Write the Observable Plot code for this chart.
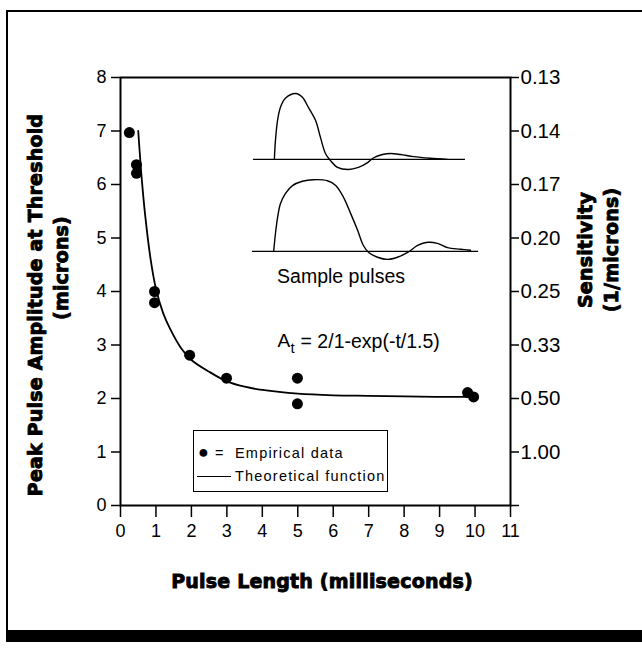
<!DOCTYPE html>
<html>
<head>
<meta charset="utf-8">
<script src="https://cdn.jsdelivr.net/npm/d3@7"></script>
<script src="https://cdn.jsdelivr.net/npm/@observablehq/plot@0.6"></script>
<style>
  html, body { margin: 0; padding: 0; background: #fff; }
  #wrap { position: relative; width: 642px; height: 653px; overflow: hidden; background: #fff; }
  #border { position: absolute; left: 6px; top: 10px; width: 700px; height: 632px; box-sizing: border-box;
            border-left: 2px solid #000; border-top: 2px solid #000; border-bottom: 12px solid #000; pointer-events: none; }
  #chart { position: absolute; left: 0; top: 0; }
  .title { position: absolute; font-family: "DejaVu Sans", sans-serif; font-weight: bold; font-size: 19px;
           letter-spacing: 0.2px; color: #000; white-space: nowrap; -webkit-text-stroke: 0.9px #000; }
  .rot { transform: translate(-50%, -50%) rotate(-90deg); }
  #legend { position: absolute; left: 193px; top: 430px; width: 195px; height: 62px; box-sizing: border-box;
            border: 1.5px solid #000; font-family: "Liberation Sans", Arial, sans-serif; font-size: 14.5px;
            letter-spacing: 1.2px; color: #000; }
  #legend div { position: absolute; white-space: nowrap; line-height: 16px; }
</style>
</head>
<body>
<div id="wrap">
  <div id="chart"></div>
  <div id="border"></div>
</div>
<script>
// ---- data ----
const pulseLengthTicks = [0, 1, 2, 3, 4, 5, 6, 7, 8, 9, 10, 11];
const amplitudeTicks = [0, 1, 2, 3, 4, 5, 6, 7, 8];
const sensitivityTicks = [0, 1, 2, 3, 4, 5, 6, 7, 8];
const sensitivityLabels = ["", "1.00", "0.50", "0.33", "0.25", "0.20", "0.17", "0.14", "0.13"];

// Empirical data (pulse length ms, peak amplitude microns)
const empiricalT = [0.25, 0.45, 0.45, 0.96, 0.96, 1.95, 2.99, 4.99, 4.99, 9.79, 9.96];
const empiricalA = [6.97, 6.37, 6.21, 4.00, 3.79, 2.81, 2.38, 2.38, 1.90, 2.11, 2.03];

// Theoretical function
const theoryT = [0.5, 0.6, 0.7, 0.85, 1.0, 1.2, 1.4, 1.7, 2.0, 2.5, 3.0, 3.5, 4.0, 5.0, 6.0, 7.0, 8.0, 9.0, 10.0];
const theoryA = [7.0, 6.1, 5.4, 4.6, 4.05, 3.6, 3.3, 2.95, 2.72, 2.5, 2.32, 2.22, 2.16, 2.09, 2.06, 2.05, 2.04, 2.03, 2.03];

// Inset: sample pulses (drawn in the chart's coordinates)
const pulse1Base = { t1: 3.75, t2: 9.73, a: 6.47 };
const pulse1T = [4.34, 4.37, 4.43, 4.51, 4.65, 4.94, 5.13, 5.30, 5.50, 5.64, 5.78, 5.92, 6.12, 6.43, 6.71, 6.97, 7.14, 7.39, 7.62, 7.90, 8.27, 8.74, 9.22];
const pulse1A = [6.47, 6.82, 7.20, 7.44, 7.61, 7.70, 7.63, 7.44, 7.20, 6.88, 6.58, 6.45, 6.32, 6.28, 6.32, 6.41, 6.50, 6.56, 6.58, 6.56, 6.52, 6.49, 6.47];
const pulse2Base = { t1: 3.72, t2: 10.1, a: 4.75 };
const pulse2T = [4.32, 4.37, 4.43, 4.51, 4.65, 4.85, 5.13, 5.44, 5.84, 6.07, 6.29, 6.49, 6.69, 6.85, 7.0, 7.25, 7.53, 7.81, 8.10, 8.38, 8.66, 8.94, 9.22, 9.59, 9.87];
const pulse2A = [4.75, 5.08, 5.38, 5.64, 5.83, 5.98, 6.06, 6.09, 6.07, 5.98, 5.76, 5.46, 5.14, 4.86, 4.73, 4.64, 4.60, 4.64, 4.73, 4.86, 4.92, 4.90, 4.82, 4.79, 4.77];

const insetLabel = { t: 6.22, a: 4.27, text: "Sample pulses" };
const formula = { t: 4.43, a: 3.07, main: "A", sub: "t", rest: "= 2/1-exp(-t/1.5)" };

// Legend entries
const legendItems = ["Empirical data", "Theoretical function"];

// ---- build tables ----
const empirical = empiricalT.map((t, i) => ({ t, a: empiricalA[i] }));
const theory = theoryT.map((t, i) => ({ t, a: theoryA[i] }));
const pulse1 = pulse1T.map((t, i) => ({ t, a: pulse1A[i] }));
const pulse2 = pulse2T.map((t, i) => ({ t, a: pulse2A[i] }));
const bases = [pulse1Base, pulse2Base];

const font = "Liberation Sans, Arial, sans-serif";

const chart = Plot.plot({
  width: 642,
  height: 653,
  marginLeft: 120,
  marginRight: 132,
  marginTop: 77,
  marginBottom: 148,
  style: { fontFamily: font, background: "transparent", color: "#000" },
  x: { domain: [0, 11] },
  y: { domain: [0, 8] },
  marks: [
    Plot.frame({ stroke: "#000", strokeWidth: 2 }),
    Plot.axisY(amplitudeTicks, { anchor: "left", tickSize: 9, tickPadding: 5, fontSize: 18, strokeWidth: 1.5, label: null,
      tickFormat: d => String(d) }),
    Plot.axisY(sensitivityTicks, { anchor: "right", tickSize: 8, tickPadding: 2, fontSize: 20.5, strokeWidth: 1.5, label: null,
      tickFormat: d => sensitivityLabels[d] }),
    Plot.axisX(pulseLengthTicks, { anchor: "bottom", tickSize: 12, tickPadding: 7, fontSize: 18, strokeWidth: 1.5, label: null,
      tickFormat: d => String(d) }),
    // inset pulses
    Plot.ruleY(bases, { x1: "t1", x2: "t2", y: "a", stroke: "#000", strokeWidth: 1.3 }),
    Plot.line(pulse1, { x: "t", y: "a", curve: "catmull-rom", stroke: "#000", strokeWidth: 1.4 }),
    Plot.line(pulse2, { x: "t", y: "a", curve: "catmull-rom", stroke: "#000", strokeWidth: 1.4 }),
    Plot.text([insetLabel], { x: "t", y: "a", text: "text", fontSize: 19.5, fill: "#000" }),
    // formula
    Plot.text([formula], { x: "t", y: "a", text: "main", textAnchor: "start", fontSize: 19, fill: "#000" }),
    Plot.text([formula], { x: "t", y: "a", text: "sub", textAnchor: "start", fontSize: 15, dx: 13, dy: 7, fill: "#000" }),
    Plot.text([formula], { x: "t", y: "a", text: "rest", textAnchor: "start", fontSize: 19.5, dx: 23, fill: "#000" }),
    // theoretical curve & data
    Plot.line(theory, { x: "t", y: "a", curve: "catmull-rom", stroke: "#000", strokeWidth: 1.8 }),
    Plot.dot(empirical, { x: "t", y: "a", r: 5.5, fill: "#000", stroke: "none" })
  ]
});
document.getElementById("chart").appendChild(chart);

// ---- titles & legend (HTML around the SVG) ----
const wrap = document.getElementById("wrap");
function addTitle(text, x, y, rot) {
  const d = document.createElement("div");
  d.className = "title" + (rot ? " rot" : "");
  d.textContent = text;
  d.style.left = x + "px";
  d.style.top = y + "px";
  if (!rot) d.style.transform = "translate(-50%, -50%)";
  wrap.appendChild(d);
}
addTitle("Peak Pulse Amplitude at Threshold", 35, 305, true);
addTitle("(microns)", 61, 268, true);
addTitle("Sensitivity", 585, 250, true);
addTitle("(1/microns)", 611, 250, true);
addTitle("Pulse Length (milliseconds)", 322, 581, false);

const legend = document.createElement("div");
legend.id = "legend";
legend.innerHTML =
  '<div style="left:4px;top:13px;font-size:18px;letter-spacing:0;line-height:16px">\u25CF</div>' +
  '<div style="left:21px;top:14px;letter-spacing:0">=</div>' +
  '<div style="left:41px;top:14px">' + legendItems[0] + '</div>' +
  '<div style="left:3px;top:37px;width:34px;height:0;border-top:1.5px solid #000;margin-top:8px"></div>' +
  '<div style="left:41px;top:37px">' + legendItems[1] + '</div>';
wrap.appendChild(legend);
</script>
</body>
</html>
